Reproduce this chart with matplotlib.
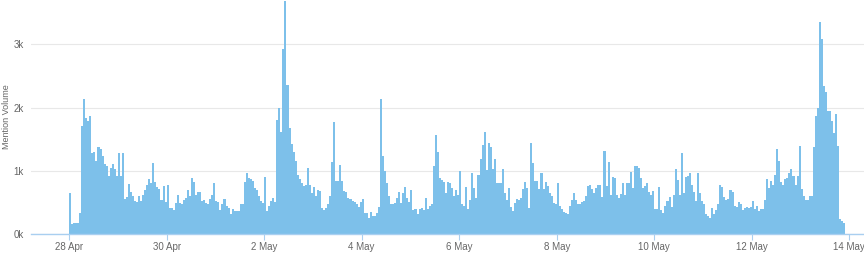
import numpy as np
import matplotlib
matplotlib.use('Agg')
import matplotlib.pyplot as plt

plt.rcParams['font.family'] = ['Liberation Sans', 'DejaVu Sans']

#=====================================#
# Hourly mention volume (thousands)   #
#=====================================#

day_labels = ['28 Apr', '30 Apr', '2 May', '4 May', '6 May', '8 May', '10 May', '12 May', '14 May']

apr28 = [0.65, 0.16, 0.17, 0.17, 0.18, 0.33, 1.70, 2.13, 1.84, 1.79, 1.87, 1.28,
         1.29, 1.16, 1.37, 1.35, 1.23, 1.10, 1.07, 0.92, 1.05, 1.10, 1.02, 0.91]
apr29 = [1.28, 0.92, 1.28, 0.55, 0.58, 0.79, 0.66, 0.60, 0.52, 0.50, 0.60, 0.52,
         0.62, 0.69, 0.78, 0.87, 0.80, 1.12, 0.82, 0.75, 0.71, 0.54, 0.76, 0.51]
apr30 = [0.78, 0.41, 0.41, 0.38, 0.49, 0.61, 0.49, 0.48, 0.54, 0.57, 0.70, 0.60,
         0.89, 0.82, 0.62, 0.66, 0.66, 0.52, 0.53, 0.49, 0.47, 0.56, 0.61, 0.81]
may01 = [0.52, 0.50, 0.38, 0.47, 0.56, 0.44, 0.41, 0.31, 0.39, 0.37, 0.36, 0.37,
         0.48, 0.48, 0.82, 0.96, 0.89, 0.87, 0.84, 0.73, 0.70, 0.60, 0.52, 0.49]
may02 = [0.90, 0.36, 0.44, 0.52, 0.57, 0.50, 1.81, 2.00, 1.61, 2.93, 3.68, 2.35,
         1.67, 1.42, 1.29, 1.15, 0.94, 0.87, 0.81, 0.76, 0.78, 1.05, 0.78, 0.65]
may03 = [0.74, 0.60, 0.70, 0.68, 0.41, 0.38, 0.41, 0.48, 0.60, 1.14, 1.77, 0.84,
         0.84, 1.09, 0.84, 0.68, 0.66, 0.57, 0.56, 0.52, 0.50, 0.48, 0.43, 0.50]
may04 = [0.56, 0.33, 0.33, 0.25, 0.35, 0.28, 0.29, 0.33, 0.43, 2.13, 1.24, 0.99,
         0.81, 0.60, 0.48, 0.48, 0.49, 0.57, 0.66, 0.49, 0.65, 0.75, 0.57, 0.50]
may05 = [0.70, 0.38, 0.39, 0.32, 0.40, 0.41, 0.38, 0.57, 0.40, 0.44, 0.47, 1.08,
         1.56, 1.29, 0.89, 0.86, 0.82, 0.65, 0.82, 0.80, 0.73, 0.60, 0.70, 0.61]
may06 = [0.99, 0.47, 0.44, 0.75, 0.40, 0.54, 0.96, 0.73, 0.57, 0.94, 1.18, 1.40,
         1.61, 1.01, 1.44, 1.37, 1.02, 1.18, 0.81, 0.81, 0.81, 1.02, 0.65, 0.53]
may07 = [0.73, 0.43, 0.36, 0.49, 0.56, 0.53, 0.57, 0.71, 0.82, 0.73, 0.41, 1.44,
         1.13, 0.84, 0.84, 0.71, 0.96, 0.71, 0.82, 0.76, 0.65, 0.60, 0.49, 0.47]
may08 = [0.80, 0.44, 0.39, 0.34, 0.33, 0.32, 0.44, 0.54, 0.65, 0.54, 0.48, 0.48,
         0.50, 0.52, 0.60, 0.76, 0.77, 0.71, 0.65, 0.73, 0.77, 0.78, 0.59, 1.32]
may09 = [0.76, 1.14, 0.62, 0.90, 0.89, 0.61, 0.57, 0.64, 0.81, 0.62, 0.80, 0.81,
         0.98, 0.73, 1.07, 1.08, 1.05, 0.89, 0.73, 0.76, 0.81, 0.66, 0.62, 0.68]
may10 = [0.40, 0.40, 0.75, 0.38, 0.33, 0.44, 0.52, 0.59, 0.43, 0.62, 1.03, 0.85,
         0.62, 1.28, 0.65, 0.90, 0.92, 0.96, 0.78, 0.66, 0.52, 0.96, 0.65, 0.52]
may11 = [0.48, 0.32, 0.28, 0.25, 0.41, 0.32, 0.38, 0.48, 0.77, 0.75, 0.59, 0.54,
         0.56, 0.69, 0.66, 0.45, 0.43, 0.50, 0.48, 0.38, 0.41, 0.43, 0.41, 0.43]
may12 = [0.52, 0.39, 0.44, 0.36, 0.40, 0.39, 0.54, 0.87, 0.73, 0.84, 0.78, 0.94,
         1.34, 1.16, 0.82, 0.77, 0.87, 0.89, 0.97, 1.02, 0.92, 0.77, 0.92, 1.39]
may13 = [0.71, 0.60, 0.53, 0.54, 0.60, 0.60, 1.37, 1.87, 2.00, 3.36, 3.09, 2.34,
         2.25, 1.95, 1.95, 1.79, 1.60, 1.89, 1.39, 0.24, 0.21, 0.17]

days = [apr28, apr29, apr30, may01, may02, may03, may04, may05,
        may06, may07, may08, may09, may10, may11, may12, may13]
volume = np.concatenate(days)
hours = np.arange(len(volume)) / 24.0  # days since 28 Apr 00:00

#==============#
# Diagram Plot #
#==============#

bar_color = '#7dc0ea'
text_color = '#666666'

fig = plt.figure(figsize=(8.64, 2.54), dpi=100)
ax = fig.add_axes([31 / 864, 20 / 254, 833 / 864, 234 / 254])

ax.bar(hours, volume, width=1 / 24, align='edge', color=bar_color, edgecolor='none', zorder=2)

ax.set_xlim(-0.78, 16.30)
ax.set_ylim(0, 3.7)

ax.set_yticks([0, 1, 2, 3])
ax.set_yticklabels(['0k', '1k', '2k', '3k'])
ax.set_xticks(np.arange(0, 17, 2))
ax.set_xticklabels(day_labels)

ax.grid(axis='y', color='#e8e8e8', linewidth=0.8, zorder=0)
for side in ['top', 'right', 'left']:
    ax.spines[side].set_visible(False)
ax.spines['bottom'].set_color('#a9cff0')
ax.spines['bottom'].set_linewidth(1.0)

ax.tick_params(axis='y', length=0, pad=5, labelsize=7, labelcolor=text_color)
ax.tick_params(axis='x', length=4, width=0.8, color='#a9cff0', pad=2, labelsize=7, labelcolor=text_color)
ax.set_ylabel('Mention Volume', fontsize=6.5, color=text_color)
ax.yaxis.set_label_coords(-0.024, 0.5)

plt.savefig('out.png', dpi=100)
